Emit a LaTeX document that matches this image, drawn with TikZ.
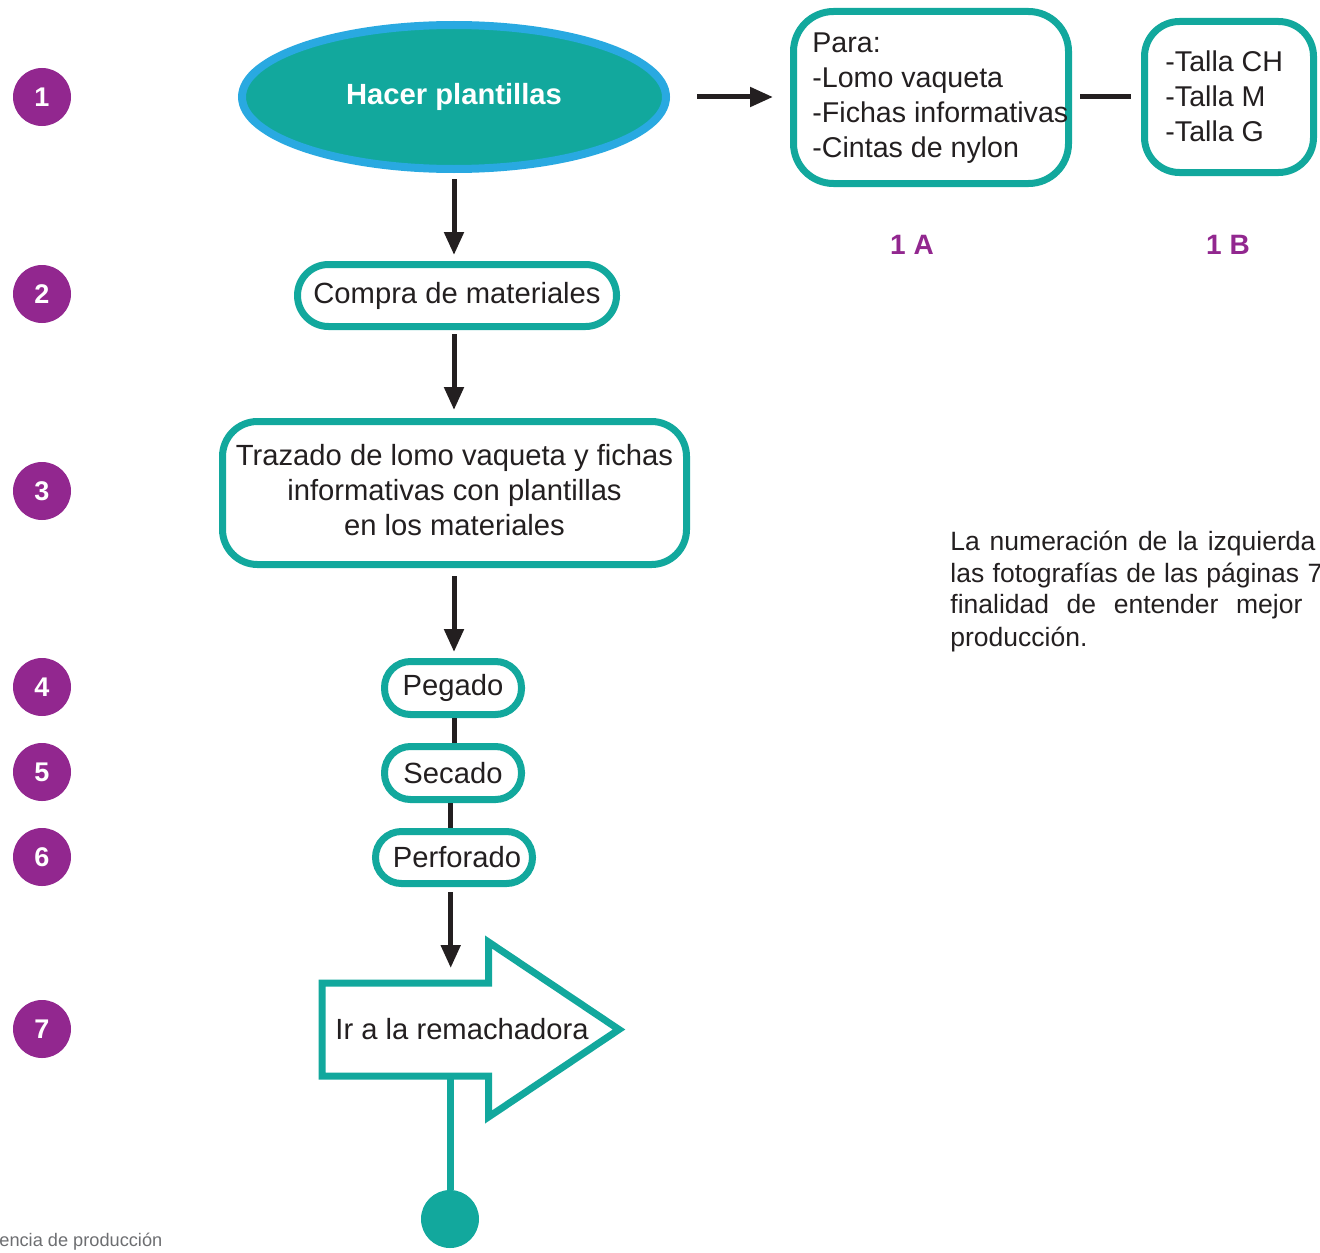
\documentclass[tikz,border=0pt]{standalone}
\usepackage{fontspec}
\setmainfont{Liberation Sans}
\usetikzlibrary{arrows.meta,shapes.geometric}
\definecolor{teal1}{HTML}{12A89D}
\definecolor{purp}{HTML}{92278F}
\definecolor{blu}{HTML}{29A9E1}
\definecolor{ink}{HTML}{231F20}
\definecolor{foot}{HTML}{6D6E71}
\begin{document}
\begin{tikzpicture}[x=0.5pt,y=-0.5pt,
 body/.style={font=\fontsize{14.3pt}{17.5pt}\selectfont, text=ink},
 mainfont/.style={font=\fontsize{14.6pt}{17.5pt}\selectfont, text=ink},
 tbox/.style={draw=teal1, line width=3.5pt, fill=white, inner sep=0pt, mainfont},
 num/.style={circle, fill=purp, minimum size=29pt, inner sep=0pt, text=white, font=\fontsize{13.5pt}{13.5pt}\selectfont\bfseries},
 arr/.style={draw=ink, line width=2.5pt, -{Triangle[length=11.5pt,width=9.5pt]}},
 lnk/.style={draw=ink, line width=2.5pt},
 para/.style={anchor=west, inner sep=0pt, text=ink, font=\fontsize{13.25pt}{16pt}\selectfont},
 lbl/.style={text=purp, font=\fontsize{14pt}{14pt}\selectfont\bfseries},
]
\useasboundingbox (0,0) rectangle (1320,1252);

% step numbers
\node[num] (n1) at (42,97) {1};
\node[num] (n2) at (42,294) {2};
\node[num] (n3) at (42,491) {3};
\node[num] (n4) at (42,687) {4};
\node[num] (n5) at (42,772) {5};
\node[num] (n6) at (42,857) {6};
\node[num] (n7) at (42,1029) {7};

% main flow
\node[ellipse, draw=blu, fill=teal1, line width=4pt, minimum width=212pt, minimum height=72pt, inner sep=0pt, text=white, font=\fontsize{14.6pt}{14.6pt}\selectfont\bfseries] (ell) at (454,97) {\raisebox{-1.5pt}{Hacer plantillas}};
\node[tbox, rounded corners=15.5pt, minimum width=159.5pt, minimum height=31pt] (b2) at (457,295.5) {Compra de materiales};
\node[tbox, rounded corners=17.5pt, minimum width=232pt, minimum height=71.5pt, align=center] (b3) at (454.5,493) {\raisebox{1.5pt}{\begin{tabular}{@{}c@{}}Trazado de lomo vaqueta y fichas\\informativas con plantillas\\en los materiales\end{tabular}}};
\node[tbox, rounded corners=13pt, minimum width=68.5pt, minimum height=26.5pt] (b4) at (453,688) {Pegado};
\node[tbox, rounded corners=13pt, minimum width=68.5pt, minimum height=26.5pt] (b5) at (453,773) {Secado};
\node[tbox, rounded corners=13pt, minimum width=78.5pt, minimum height=26pt] (b6) at (454,857.5) {\hspace{3pt}Perforado};

% arrow shape
\draw[draw=teal1, line width=3.5pt, fill=white] (322,983) -- (488.5,983) -- (488.5,942) -- (619,1029.5) -- (488.5,1117) -- (488.5,1076) -- (322,1076) -- cycle;
\node[mainfont, inner sep=0pt] (ir) at (462,1029) {Ir a la remachadora};
\coordinate (atop) at (450.7,983);
\coordinate (abot) at (450,1076);
\node[circle, fill=teal1, minimum size=29pt, inner sep=0pt] (endc) at (450,1219) {};

% side boxes
\node[tbox, rounded corners=20pt, minimum width=137.5pt, minimum height=86pt] (a1) at (931,97.5) {};
\node[body, anchor=west, align=left, inner sep=0pt] (a1t) at (812,98.5) {Para:\\-Lomo vaqueta\\-Fichas informativas\\-Cintas de nylon};
\node[tbox, rounded corners=17.5pt, minimum width=84.5pt, minimum height=75.5pt] (b1b) at (1229,97) {};
\node[body, anchor=west, align=left, inner sep=0pt] (b1bt) at (1165,96) {-Talla CH\\-Talla M\\-Talla G};
\node[lbl] (l1a) at (912,245) {1 A};
\node[lbl] (l1b) at (1228,245) {1 B};

% connectors
\draw[arr, shorten <=3pt, shorten >=3pt] (ell.south) -- (ell.south |- b2.north);
\draw[arr, shorten <=2pt, shorten >=4pt] (b2.south -| ell.south) -- (b3.north -| ell.south);
\draw[arr, shorten <=4pt, shorten >=3pt] (b3.south -| ell.south) -- (b4.north -| ell.south);
\draw[lnk] (b4.south -| ell.south) -- (b5.north -| ell.south);
\draw[lnk] (b5.south -| atop) -- (b6.north -| atop);
\draw[arr, shorten <=2.5pt, shorten >=7.5pt] (b6.south -| atop) -- (atop);
\draw[draw=teal1, line width=3.5pt] (abot) -- (endc.north);
\draw[arr] ([xshift=13.5pt]ell.east) -- ([xshift=-8.5pt]a1.west |- ell.east);
\draw[lnk] ([xshift=4pt]a1.east |- b1b.west) -- ([xshift=-5pt]b1b.west);

% note paragraph
\node[para] (p1) at (950,543) {\makebox[182.5pt][s]{La numeración de la izquierda}};
\node[para] (p2) at (950,575) {\makebox[186pt][s]{las fotografías de las páginas 7}};
\node[para] (p3) at (950,607) {\makebox[176pt][s]{finalidad de entender mejor}};
\node[para] (p4) at (950,639) {producción.};

% footer
\node[anchor=west, inner sep=0pt, text=foot, font=\fontsize{9.1pt}{10pt}\selectfont] (ft) at (-1,1242) {encia de producción};
\end{tikzpicture}
\end{document}
